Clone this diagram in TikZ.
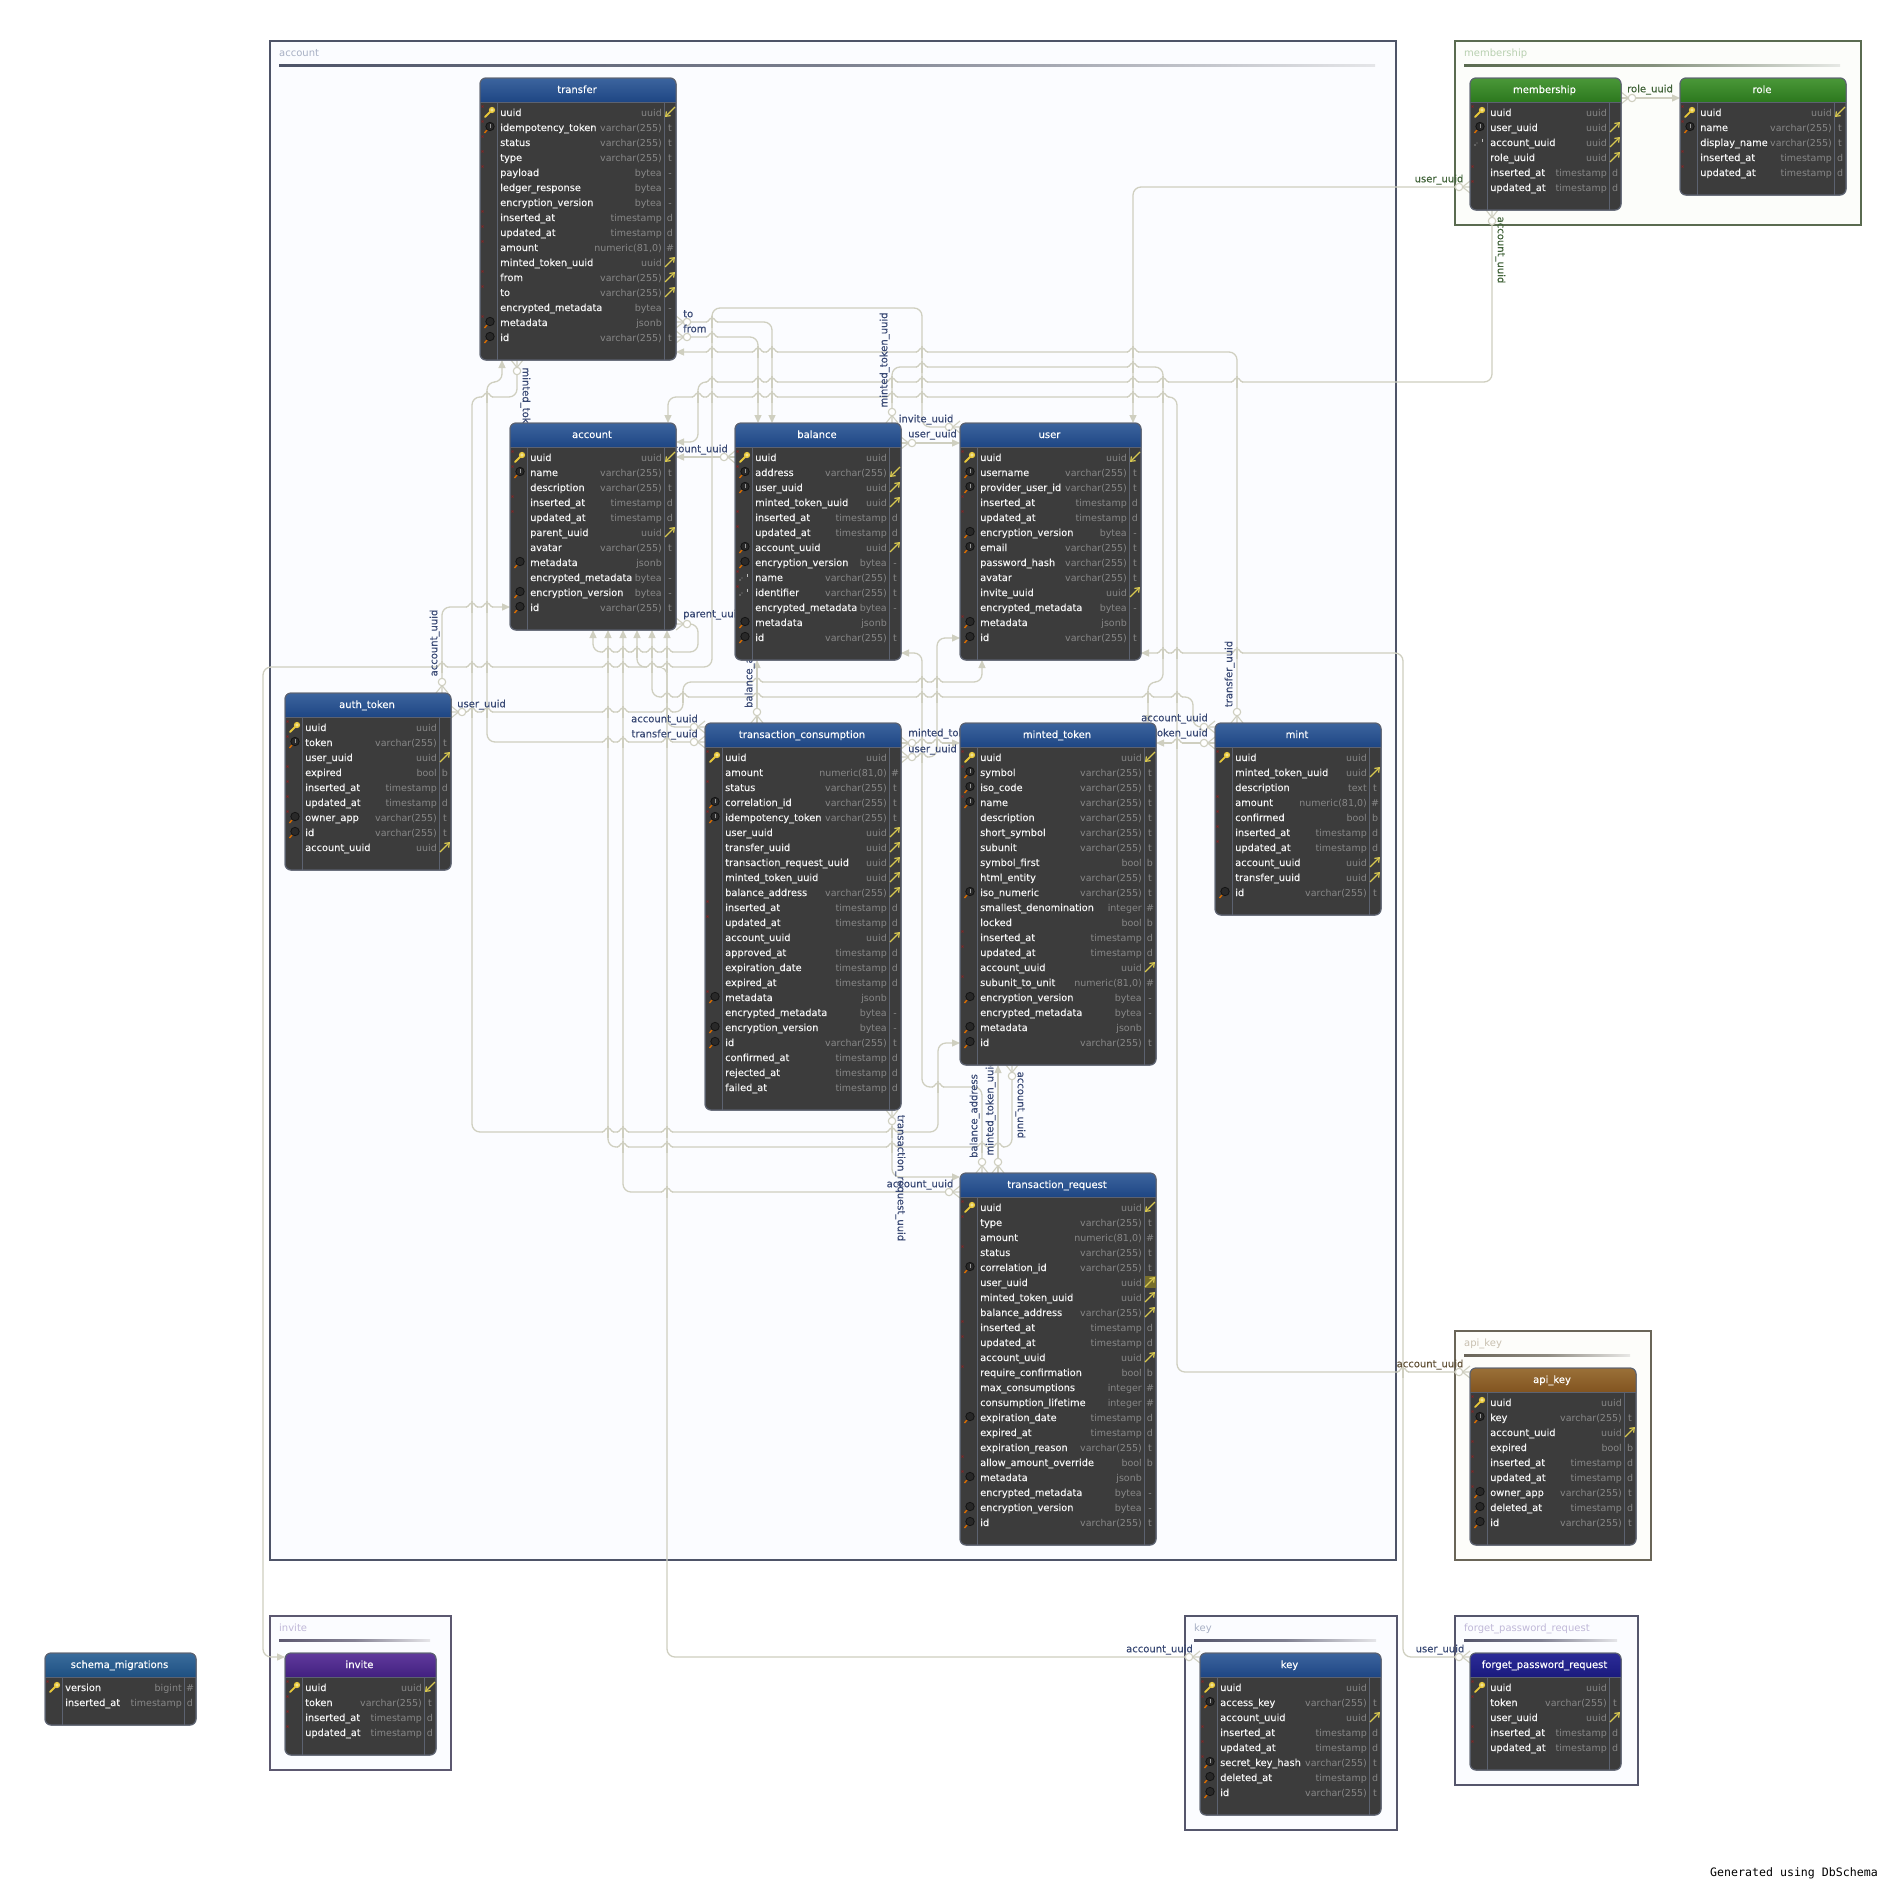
\documentclass[tikz,border=0pt]{standalone}
\usepackage{fontspec}
\setmainfont{DejaVu Sans}
\newfontfamily\genfont{DejaVu Sans Mono}
\newfontfamily\namefont[FakeBold=0.15]{DejaVu Sans}
\newfontfamily\lblfont[FakeBold=0.3]{DejaVu Sans}
\usetikzlibrary{arrows.meta, positioning}
\definecolor{linkcol}{RGB}{207,207,192}
\definecolor{tbody}{RGB}{60,60,60}
\definecolor{tedge}{RGB}{92,98,112}
\definecolor{tname}{RGB}{245,245,245}
\definecolor{ttype}{RGB}{135,135,135}
\definecolor{keycol}{RGB}{232,200,58}
\definecolor{fkcol}{RGB}{216,200,80}
\definecolor{lblblue}{RGB}{56,72,116}
\definecolor{lblgreen}{RGB}{64,98,56}
\definecolor{lblbrown}{RGB}{98,82,56}
\definecolor{bluetop}{RGB}{60,100,158}
\definecolor{bluebot}{RGB}{30,70,132}
\definecolor{tealtop}{RGB}{58,108,156}
\definecolor{tealbot}{RGB}{30,80,130}
\definecolor{greentop}{RGB}{74,152,56}
\definecolor{greenbot}{RGB}{44,120,30}
\definecolor{purpletop}{RGB}{96,58,156}
\definecolor{purplebot}{RGB}{66,32,128}
\definecolor{navytop}{RGB}{44,44,152}
\definecolor{navybot}{RGB}{26,26,126}
\definecolor{browntop}{RGB}{154,112,56}
\definecolor{brownbot}{RGB}{130,84,32}
\definecolor{grpblue}{RGB}{78,84,104}
\definecolor{grpgreen}{RGB}{90,107,80}
\definecolor{grpbrown}{RGB}{106,101,88}
\definecolor{grppurple}{RGB}{92,88,112}
\definecolor{grpnavy}{RGB}{85,86,108}
\definecolor{fillblue}{RGB}{251,252,255}
\definecolor{fillgreen}{RGB}{252,253,250}
\definecolor{fillbrown}{RGB}{253,253,250}
\definecolor{txtblue}{RGB}{168,176,196}
\definecolor{txtgreen}{RGB}{184,208,176}
\definecolor{txtbrown}{RGB}{200,192,176}
\definecolor{txtpurple}{RGB}{192,184,216}
\pgfdeclarelayer{groups}
\pgfdeclarelayer{links}
\pgfsetlayers{groups,links,main}
\catcode`\_=12
\def\tvc{varchar(255)}
\def\tts{timestamp}
\def\tnum{numeric(81,0)}
\def\flt{t}
\def\fld{d}
\def\flb{b}
\def\flh{\#}
\def\flw{-}
\def\fle{}
\tikzset{
  tbl/.style={draw=tedge, line width=1pt, fill=tbody, rounded corners=6pt, inner sep=0pt, outer sep=0pt, anchor=north west},
  tblname/.style={text=tname, inner sep=0pt, anchor=base west, font=\namefont\fontsize{9.8}{11}\selectfont},
  tbltype/.style={text=ttype, inner sep=0pt, anchor=base east, font=\fontsize{9.5}{11}\selectfont},
  tblflag/.style={text=ttype, inner sep=0pt, anchor=base, font=\fontsize{9.5}{11}\selectfont},
  tbltitle/.style={text=white, inner sep=0pt, anchor=base, font=\namefont},
  rel/.style={draw=linkcol, line width=1.3pt, rounded corners=8pt, ->},
  rellbl/.style={text=lblblue, inner sep=0pt, text height=7.5pt, text depth=1pt, font=\lblfont},
  crow/.pic={
    \draw[-, draw=linkcol, line width=1.1pt, sharp corners] (0,-6) -- (7.5,0) -- (0,6);
    \draw[-, draw=linkcol, line width=1.1pt, fill=white, sharp corners] (11,0) circle[radius=3.7];
  },
  hop/.pic={
    \draw[white, line width=2.4pt] (-5,0) -- (5,0);
    \draw[linkcol, line width=1.3pt] (-6,0) .. controls (-3,0) and (-3,-4) .. (0,-4) .. controls (3,-4) and (3,0) .. (6,0);
    \draw[linkcol, line width=1.3pt] (0,-6) -- (0,6);
  },
  iconn/.pic={},
  iconx/.pic={\draw[red!45!tbody, line width=.5pt] (-7.5,-6.5) -- (-5.5,-4.5) (-7.5,-4.5) -- (-5.5,-6.5);},
  iconk/.pic={
    \draw[keycol, line width=1.8pt, line cap=round] (-4,5) -- (2,-1);
    \draw[keycol, line width=1.4pt, fill=keycol!55!white] (3,-2) circle[radius=2.4];
  },
  iconm/.pic={
    \draw[orange!85!black, line width=1.4pt] (-4.5,6) -- (-2,3);
    \draw[black!92, line width=.8pt, fill=black!84] (1,-.5) circle[radius=4.2];
  },
  iconu/.pic={
    \pic {iconm};
    \draw[black!40, line width=.9pt] (1,-3) -- (1,0.5);
  },
  icons/.pic={
    \fill[black!45] (-4,3) circle[radius=.9] (-2,1) circle[radius=.6];
    \draw[black!25, line width=.8pt] (3,-3.5) -- (3,-.5);
  },
  iconkx/.pic={\pic {iconk}; \pic {iconx};},
  iconmx/.pic={\pic {iconm}; \pic {iconx};},
  iconux/.pic={\pic {iconu}; \pic {iconx};},
  iconsx/.pic={\pic {icons}; \pic {iconx};},
  arrn/.pic={},
  arrp/.pic={\draw[fkcol, line width=1.2pt, -{Straight Barb[length=4pt,width=6pt]}] (10,-5) -- (0,5);},
  arrf/.pic={\draw[fkcol, line width=1.2pt, -{Straight Barb[length=4pt,width=6pt]}] (0,5) -- (10,-5);},
  arrg/.pic={\fill[black!45!fkcol] (0,-6) rectangle (11,6); \pic {arrf};},
}
% id, x0, x1, y0, rows, top colour, bottom colour, title, rows
\newcommand{\dbtable}[9]{
  \pgfmathsetmacro{\tbw}{#3-#2}
  \pgfmathsetmacro{\tbh}{42+15*#5}
  \pgfmathsetmacro{\tby}{#4+\tbh}
  \pgfmathsetmacro{\tbc}{(#2+#3)/2}
  \node[tbl, minimum width=\tbw pt, minimum height=\tbh pt] (#1) at (#2,#4) {};
  \begin{scope}
    \clip[rounded corners=6pt] (#2,#4) rectangle (#3,\tby);
    \shade[top color=#6, bottom color=#7] (#2,#4) rectangle (#3,#4+24);
  \end{scope}
  \draw[tedge, line width=1pt] (#2,#4+24) -- (#3,#4+24);
  \draw[tedge, line width=.8pt] (#2+17,#4+24) -- (#2+17,\tby) (#3-11.5,#4+24) -- (#3-11.5,\tby);
  \draw[tedge, line width=1pt, rounded corners=6pt] (#2,#4) rectangle (#3,\tby);
  \node[tbltitle] (#1-title) at (\tbc-1,#4+15) {#8};
  \foreach \nm/\ty/\fl/\ic/\ar [count=\i] in {#9} {
    \pgfmathsetmacro{\rowy}{#4+34+15*(\i-1)}
    \node[tblname] (#1-n\i) at (#2+20,\rowy+4) {\nm};
    \node[tbltype] (#1-t\i) at (#3-14,\rowy+4) {\ty};
    \node[tblflag] (#1-f\i) at (#3-6,\rowy+4) {\csname fl\fl\endcsname};
    \pic at (#2+9,\rowy) {icon\ic};
    \pic at (#3-11,\rowy) {arr\ar};
  }
}
% id, x0, y0, x1, y1, rule end, line colour, fill, label colour
\newcommand{\dbgroup}[9]{
  \pgfmathsetmacro{\tbw}{#4-#2}
  \pgfmathsetmacro{\tbh}{#5-#3}
  \node[draw=#7, line width=2.2pt, fill=#8, inner sep=0pt, outer sep=0pt, anchor=north west, minimum width=\tbw pt, minimum height=\tbh pt] (grp-#1) at (#2,#3) {};
  \shade[left color=#7, right color=#7!15!white, middle color=#7!75!white] (#2+9,#3+23) rectangle (#6,#3+25);
  \node[text=#9, inner sep=0pt, anchor=base west] (grp-#1-t) at (#2+9,#3+15) {#1};
}
\begin{document}
\begin{tikzpicture}[x=1pt, y=-1pt, >={Triangle[length=8pt,width=7pt]}]
\useasboundingbox (0,0) rectangle (1890,1890);
\begin{pgfonlayer}{groups}
\fill[white] (0,0) rectangle (1890,1890);
\dbgroup{account}{270}{41}{1396}{1560}{1375}{grpblue}{fillblue}{txtblue}
\dbgroup{membership}{1455}{41}{1861}{225}{1840}{grpgreen}{fillgreen}{txtgreen}
\dbgroup{api_key}{1455}{1331}{1651}{1560}{1630}{grpbrown}{fillbrown}{txtbrown}
\dbgroup{invite}{270}{1616}{451}{1770}{430}{grppurple}{fillblue}{txtpurple}
\dbgroup{key}{1185}{1616}{1397}{1830}{1376}{grpnavy}{fillblue}{txtblue}
\dbgroup{forget_password_request}{1455}{1616}{1638}{1785}{1617}{grpnavy}{fillblue}{txtpurple}
\end{pgfonlayer}

\dbtable{transfer}{480}{676}{78}{16}{bluetop}{bluebot}{transfer}{
  uuid/uuid/e/kx/p, idempotency_token/\tvc/t/ux/n, status/\tvc/t/x/n, type/\tvc/t/x/n, payload/bytea/w/x/n,
  ledger_response/bytea/w/n/n, encryption_version/bytea/w/n/n, inserted_at/\tts/d/x/n, updated_at/\tts/d/x/n,
  amount/\tnum/h/x/n, minted_token_uuid/uuid/e/n/f, from/\tvc/e/x/f, to/\tvc/e/x/f,
  encrypted_metadata/bytea/w/n/n, metadata/jsonb/e/mx/n, id/\tvc/t/m/n}
\dbtable{account}{510}{676}{423}{11}{bluetop}{bluebot}{account}{
  uuid/uuid/e/kx/p, name/\tvc/t/ux/n, description/\tvc/t/n/n, inserted_at/\tts/d/x/n, updated_at/\tts/d/x/n,
  parent_uuid/uuid/e/n/f, avatar/\tvc/t/n/n, metadata/jsonb/e/m/n, encrypted_metadata/bytea/w/n/n,
  encryption_version/bytea/w/m/n, id/\tvc/t/m/n}
\dbtable{balance}{735}{901}{423}{13}{bluetop}{bluebot}{balance}{
  uuid/uuid/e/kx/n, address/\tvc/e/ux/p, user_uuid/uuid/e/u/f, minted_token_uuid/uuid/e/n/f,
  inserted_at/\tts/d/x/n, updated_at/\tts/d/x/n, account_uuid/uuid/e/u/f, encryption_version/bytea/w/m/n,
  name/\tvc/t/sx/n, identifier/\tvc/t/sx/n, encrypted_metadata/bytea/w/n/n, metadata/jsonb/e/m/n, id/\tvc/t/m/n}
\dbtable{user}{960}{1141}{423}{13}{bluetop}{bluebot}{user}{
  uuid/uuid/e/kx/p, username/\tvc/t/u/n, provider_user_id/\tvc/t/u/n, inserted_at/\tts/d/x/n, updated_at/\tts/d/x/n,
  encryption_version/bytea/w/m/n, email/\tvc/t/u/n, password_hash/\tvc/t/n/n, avatar/\tvc/t/n/n,
  invite_uuid/uuid/e/n/f, encrypted_metadata/bytea/w/n/n, metadata/jsonb/e/mx/n, id/\tvc/t/m/n}
\dbtable{authtoken}{285}{451}{693}{9}{bluetop}{bluebot}{auth_token}{
  uuid/uuid/e/kx/n, token/\tvc/t/ux/n, user_uuid/uuid/e/n/f, expired/bool/b/x/n, inserted_at/\tts/d/x/n,
  updated_at/\tts/d/x/n, owner_app/\tvc/t/mx/n, id/\tvc/t/m/n, account_uuid/uuid/e/n/f}
\dbtable{consumption}{705}{901}{723}{23}{bluetop}{bluebot}{transaction_consumption}{
  uuid/uuid/e/kx/n, amount/\tnum/h/n/n, status/\tvc/t/x/n, correlation_id/\tvc/t/u/n,
  idempotency_token/\tvc/t/ux/n, user_uuid/uuid/e/n/f, transfer_uuid/uuid/e/n/f,
  transaction_request_uuid/uuid/e/n/f, minted_token_uuid/uuid/e/n/f, balance_address/\tvc/e/n/f,
  inserted_at/\tts/d/x/n, updated_at/\tts/d/x/n, account_uuid/uuid/e/n/f, approved_at/\tts/d/n/n,
  expiration_date/\tts/d/n/n, expired_at/\tts/d/n/n, metadata/jsonb/e/mx/n, encrypted_metadata/bytea/w/n/n,
  encryption_version/bytea/w/m/n, id/\tvc/t/m/n, confirmed_at/\tts/d/n/n, rejected_at/\tts/d/n/n, failed_at/\tts/d/n/n}
\dbtable{minted}{960}{1156}{723}{20}{bluetop}{bluebot}{minted_token}{
  uuid/uuid/e/kx/p, symbol/\tvc/t/ux/n, iso_code/\tvc/t/u/n, name/\tvc/t/ux/n, description/\tvc/t/n/n,
  short_symbol/\tvc/t/n/n, subunit/\tvc/t/n/n, symbol_first/bool/b/n/n, html_entity/\tvc/t/n/n,
  iso_numeric/\tvc/t/u/n, smallest_denomination/integer/h/n/n, locked/bool/b/n/n, inserted_at/\tts/d/x/n,
  updated_at/\tts/d/x/n, account_uuid/uuid/e/n/f, subunit_to_unit/\tnum/h/x/n, encryption_version/bytea/w/m/n,
  encrypted_metadata/bytea/w/n/n, metadata/jsonb/e/m/n, id/\tvc/t/m/n}
\dbtable{mint}{1215}{1381}{723}{10}{bluetop}{bluebot}{mint}{
  uuid/uuid/e/kx/n, minted_token_uuid/uuid/e/n/f, description/text/t/n/n, amount/\tnum/h/x/n, confirmed/bool/b/x/n,
  inserted_at/\tts/d/x/n, updated_at/\tts/d/x/n, account_uuid/uuid/e/n/f, transfer_uuid/uuid/e/n/f, id/\tvc/t/m/n}
\dbtable{txrequest}{960}{1156}{1173}{22}{bluetop}{bluebot}{transaction_request}{
  uuid/uuid/e/kx/p, type/\tvc/t/x/n, amount/\tnum/h/n/n, status/\tvc/t/x/n, correlation_id/\tvc/t/u/n,
  user_uuid/uuid/e/n/g, minted_token_uuid/uuid/e/n/f, balance_address/\tvc/e/n/f, inserted_at/\tts/d/x/n,
  updated_at/\tts/d/x/n, account_uuid/uuid/e/n/f, require_confirmation/bool/b/x/n, max_consumptions/integer/h/n/n,
  consumption_lifetime/integer/h/n/n, expiration_date/\tts/d/m/n, expired_at/\tts/d/n/n, expiration_reason/\tvc/t/n/n,
  allow_amount_override/bool/b/x/n, metadata/jsonb/e/mx/n, encrypted_metadata/bytea/w/n/n,
  encryption_version/bytea/w/m/n, id/\tvc/t/m/n}
\dbtable{membership}{1470}{1621}{78}{6}{greentop}{greenbot}{membership}{
  uuid/uuid/e/kx/n, user_uuid/uuid/e/u/f, account_uuid/uuid/e/s/f, role_uuid/uuid/e/n/f,
  inserted_at/\tts/d/x/n, updated_at/\tts/d/x/n}
\dbtable{role}{1680}{1846}{78}{5}{greentop}{greenbot}{role}{
  uuid/uuid/e/kx/p, name/\tvc/t/ux/n, display_name/\tvc/t/n/n, inserted_at/\tts/d/x/n, updated_at/\tts/d/x/n}
\dbtable{schema}{45}{196}{1653}{2}{tealtop}{tealbot}{schema_migrations}{
  version/bigint/h/kx/n, inserted_at/\tts/d/n/n}
\dbtable{invite}{285}{436}{1653}{4}{purpletop}{purplebot}{invite}{
  uuid/uuid/e/kx/p, token/\tvc/t/x/n, inserted_at/\tts/d/x/n, updated_at/\tts/d/x/n}
\dbtable{key}{1200}{1381}{1653}{8}{bluetop}{bluebot}{key}{
  uuid/uuid/e/kx/n, access_key/\tvc/t/ux/n, account_uuid/uuid/e/n/f, inserted_at/\tts/d/x/n, updated_at/\tts/d/x/n,
  secret_key_hash/\tvc/t/ux/n, deleted_at/\tts/d/m/n, id/\tvc/t/m/n}
\dbtable{forgot}{1470}{1621}{1653}{5}{navytop}{navybot}{forget_password_request}{
  uuid/uuid/e/kx/n, token/\tvc/t/x/n, user_uuid/uuid/e/n/f, inserted_at/\tts/d/x/n, updated_at/\tts/d/x/n}
\dbtable{apikey}{1470}{1636}{1368}{9}{browntop}{brownbot}{api_key}{
  uuid/uuid/e/kx/n, key/\tvc/t/ux/n, account_uuid/uuid/e/n/f, expired/bool/b/x/n, inserted_at/\tts/d/x/n,
  updated_at/\tts/d/x/n, owner_app/\tvc/t/mx/n, deleted_at/\tts/d/m/n, id/\tvc/t/m/n}

\begin{pgfonlayer}{links}
\draw[rel] ([xshift=37pt]transfer.south west) pic[rotate=270]{crow} -- (517,397) -- (472,397) -- (472,1132) -- (938,1132) -- (938,1043) -- ([yshift=-320pt]minted.north west);
\draw[rel] ([yshift=-19pt]consumption.north west) pic[rotate=180]{crow} -- (487,742) -- (487,382) -- (502,382) -- ([xshift=22pt]transfer.south west);
\draw[rel] ([xshift=22pt]mint.north west) pic[rotate=90]{crow} -- (1237,352) -- ([yshift=-274pt]transfer.north east);
\draw[rel] ([yshift=-244pt]transfer.north east) pic{crow} -- (772,322) -- ([xshift=37pt]balance.north west);
\draw[rel] ([yshift=-259pt]transfer.north east) pic{crow} -- (758,337) -- ([xshift=23pt]balance.north west);
\draw[rel] ([xshift=157pt]balance.north west) pic[rotate=90]{crow} -- (892,367) -- (1163,367) -- (1163,682) -- (1148,682) -- ([xshift=188pt]minted.north west);
\draw[rel] ([yshift=-4pt]user.north west) pic[rotate=180]{crow} -- (922,427) -- (922,308) -- (712,308) -- (712,667) -- (263,667) -- (263,1657) -- ([yshift=-4pt]invite.north west);
\draw[rel] ([yshift=-20pt]balance.north east) pic{crow} -- ([yshift=-20pt]user.north west);
\draw[rel] ([yshift=-34pt]balance.north west) pic[rotate=180]{crow} -- ([yshift=-34pt]account.north east);
\draw[rel] ([yshift=-201pt]account.north east) pic{crow} -- (698,624) -- (698,652) -- (593,652) -- ([xshift=83pt]account.south west);
\draw[rel] ([xshift=157pt]authtoken.north west) pic[rotate=90]{crow} -- (442,607) -- ([yshift=-184pt]account.north west);
\draw[rel] ([yshift=-19pt]authtoken.north east) pic{crow} -- (683,712) -- (683,682) -- (982,682) -- ([xshift=22pt]user.south west);
\draw[rel] ([yshift=-4pt]mint.north west) pic[rotate=180]{crow} -- (1193,727) -- (1193,697) -- (652,697) -- ([xshift=142pt]account.south west);
\draw[rel] ([yshift=-20pt]mint.north west) pic[rotate=180]{crow} -- ([yshift=-20pt]minted.north east);
\draw[rel] ([yshift=-4pt]consumption.north west) pic[rotate=180]{crow} -- (667,727) -- ([xshift=157pt]account.south west);
\draw[rel] ([yshift=-20pt]consumption.north east) pic{crow} -- ([yshift=-20pt]minted.north west);
\draw[rel] ([yshift=-34pt]consumption.north east) pic{crow} -- (937,757) -- (937,638) -- ([yshift=-215pt]user.north west);
\draw[rel] ([xshift=22pt]txrequest.north west) pic[rotate=90]{crow} -- (982,1087) -- (922,1087) -- (922,653) -- ([yshift=-230pt]balance.north east);
\draw[rel] ([xshift=187pt]consumption.south west) pic[rotate=270]{crow} -- (892,1177) -- ([yshift=-4pt]txrequest.north west);
\draw[rel] ([yshift=-19pt]txrequest.north west) pic[rotate=180]{crow} -- (623,1192) -- ([xshift=113pt]account.south west);
\draw[rel] ([xshift=38pt]txrequest.north west) pic[rotate=90]{crow} -- ([xshift=38pt]minted.south west);
\draw[rel] ([xshift=52pt]minted.south west) pic[rotate=270]{crow} -- (1012,1147) -- (608,1147) -- ([xshift=98pt]account.south west);
\draw[rel] ([xshift=52pt]consumption.north west) pic[rotate=90]{crow} -- ([xshift=22pt]balance.south west);
\draw[rel] ([yshift=-109pt]membership.north west) pic[rotate=180]{crow} -- (1133,187) -- ([xshift=173pt]user.north west);
\draw[rel] ([xshift=22pt]membership.south west) pic[rotate=270]{crow} -- (1492,382) -- (698,382) -- (698,442) -- ([yshift=-19pt]account.north east);
\draw[rel] ([yshift=-4pt]apikey.north west) pic[rotate=180]{crow} -- (1177,1372) -- (1177,397) -- (668,397) -- ([xshift=158pt]account.north west);
\draw[rel] ([yshift=-4pt]key.north west) pic[rotate=180]{crow} -- (667,1657) -- (667,667) -- (637,667) -- ([xshift=127pt]account.south west);
\draw[rel] ([yshift=-4pt]forgot.north west) pic[rotate=180]{crow} -- (1403,1657) -- (1403,653) -- ([yshift=-230pt]user.north east);
\draw[rel] ([yshift=-20pt]membership.north east) pic{crow} -- ([yshift=-20pt]role.north west);

\foreach \hx/\hy in {712/322, 712/337, 712/352, 758/352, 772/352, 922/352, 1133/352, 922/367, 1133/367,
  712/382, 758/382, 772/382, 892/382, 922/382, 1133/382, 1163/382, 1237/382,
  698/397, 712/397, 758/397, 772/397, 892/397, 922/397, 1133/397, 1163/397, 487/397,
  472/607, 487/607, 608/652, 623/652, 637/652, 652/652, 667/652, 1163/653, 1177/653, 1237/653,
  442/667, 472/667, 487/667, 608/667, 623/667, 652/667, 667/667, 757/682, 922/682, 937/682,
  667/697, 683/697, 757/697, 922/697, 937/697, 1148/697, 1177/697,
  472/712, 487/712, 608/712, 623/712, 667/712, 608/742, 623/742, 667/742, 922/743, 937/743, 1177/743, 922/757,
  938/1087, 608/1132, 623/1132, 667/1132, 892/1132, 623/1147, 667/1147, 892/1147, 982/1147, 998/1147, 667/1192, 1403/1372}
  \pic at (\hx,\hy) {hop};

\node[rellbl, rotate=-90] (lbl-tr-minted) at (526,415) {minted_token_uuid};
\node[rellbl, anchor=west] (lbl-to) at (683,314) {to};
\node[rellbl, anchor=west] (lbl-from) at (683,329) {from};
\node[rellbl, rotate=90] (lbl-bal-minted) at (884,360) {minted_token_uuid};
\node[rellbl] (lbl-invite) at (926,419) {invite_uuid};
\node[rellbl, anchor=west] (lbl-bal-user) at (908,434) {user_uuid};
\node[rellbl, anchor=east] (lbl-bal-acc) at (728,449) {account_uuid};
\node[rellbl, anchor=west] (lbl-parent) at (683,614) {parent_uuid};
\node[rellbl, rotate=90] (lbl-auth-acc) at (434,643) {account_uuid};
\node[rellbl, anchor=west] (lbl-auth-user) at (457,704) {user_uuid};
\node[rellbl, anchor=east] (lbl-con-acc) at (698,719) {account_uuid};
\node[rellbl, anchor=east] (lbl-con-tr) at (698,734) {transfer_uuid};
\node[rellbl, rotate=90] (lbl-con-bal) at (749,666) {balance_address};
\node[rellbl, anchor=west] (lbl-con-minted) at (908,733) {minted_token_uuid};
\node[rellbl, anchor=west] (lbl-con-user) at (908,749) {user_uuid};
\node[rellbl, rotate=90] (lbl-mint-tr) at (1229,674) {transfer_uuid};
\node[rellbl, anchor=east] (lbl-mint-acc) at (1208,718) {account_uuid};
\node[rellbl, anchor=east] (lbl-mint-minted) at (1208,733) {minted_token_uuid};
\node[rellbl, rotate=90] (lbl-req-bal) at (974,1116) {balance_address};
\node[rellbl, rotate=90] (lbl-req-minted) at (990,1108) {minted_token_uuid};
\node[rellbl, rotate=-90] (lbl-min-acc) at (1021,1105) {account_uuid};
\node[rellbl, rotate=-90] (lbl-con-req) at (901,1178) {transaction_request_uuid};
\node[rellbl] (lbl-req-acc) at (920,1184) {account_uuid};
\node[rellbl, text=lblgreen] (lbl-mem-user) at (1439,179) {user_uuid};
\node[rellbl, text=lblgreen, rotate=-90] (lbl-mem-acc) at (1501,250) {account_uuid};
\node[rellbl, text=lblgreen] (lbl-mem-role) at (1650,89) {role_uuid};
\node[rellbl, text=lblbrown] (lbl-api-acc) at (1430,1364) {account_uuid};
\node[rellbl, anchor=east] (lbl-key-acc) at (1193,1649) {account_uuid};
\node[rellbl] (lbl-forgot-user) at (1440,1649) {user_uuid};
\end{pgfonlayer}

\node[inner sep=0pt, anchor=base east, font=\genfont\fontsize{11.6}{13}\selectfont] (generated) at (1878,1876) {Generated using DbSchema};
\end{tikzpicture}
\end{document}
